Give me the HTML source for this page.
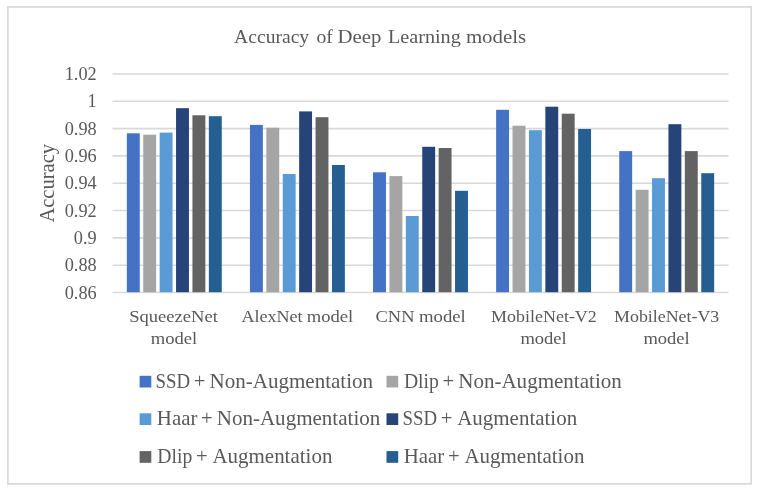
<!DOCTYPE html>
<html lang="en"><head><meta charset="utf-8"><title>Accuracy of Deep Learning models</title>
<style>html,body{margin:0;padding:0;background:#fff}svg{display:block}text{font-family:"Liberation Serif",serif;fill:#595959}</style></head><body>
<svg width="759" height="492" viewBox="0 0 759 492">
<rect x="0" y="0" width="759" height="492" fill="#fff"/>
<rect x="7.9" y="6.9" width="743.3" height="477.0" fill="#fff" stroke="#D9D9D9" stroke-width="1.7"/>
<line x1="112.5" y1="73.95" x2="728.5" y2="73.95" stroke="#D9D9D9" stroke-width="1.6"/>
<line x1="112.5" y1="101.27" x2="728.5" y2="101.27" stroke="#D9D9D9" stroke-width="1.6"/>
<line x1="112.5" y1="128.59" x2="728.5" y2="128.59" stroke="#D9D9D9" stroke-width="1.6"/>
<line x1="112.5" y1="155.91" x2="728.5" y2="155.91" stroke="#D9D9D9" stroke-width="1.6"/>
<line x1="112.5" y1="183.23" x2="728.5" y2="183.23" stroke="#D9D9D9" stroke-width="1.6"/>
<line x1="112.5" y1="210.55" x2="728.5" y2="210.55" stroke="#D9D9D9" stroke-width="1.6"/>
<line x1="112.5" y1="237.87" x2="728.5" y2="237.87" stroke="#D9D9D9" stroke-width="1.6"/>
<line x1="112.5" y1="265.19" x2="728.5" y2="265.19" stroke="#D9D9D9" stroke-width="1.6"/>
<line x1="112.5" y1="292.51" x2="728.5" y2="292.51" stroke="#D9D9D9" stroke-width="1.6"/>
<rect x="126.84" y="133.30" width="12.91" height="158.90" fill="#4472C4"/>
<rect x="143.24" y="134.70" width="12.91" height="157.50" fill="#A5A5A5"/>
<rect x="159.64" y="132.60" width="12.91" height="159.60" fill="#5B9BD5"/>
<rect x="176.04" y="108.20" width="12.91" height="184.00" fill="#264478"/>
<rect x="192.44" y="115.30" width="12.91" height="176.90" fill="#636363"/>
<rect x="208.85" y="116.20" width="12.91" height="176.00" fill="#255E91"/>
<rect x="249.94" y="124.90" width="12.91" height="167.30" fill="#4472C4"/>
<rect x="266.34" y="127.70" width="12.91" height="164.50" fill="#A5A5A5"/>
<rect x="282.74" y="174.00" width="12.91" height="118.20" fill="#5B9BD5"/>
<rect x="299.14" y="111.40" width="12.91" height="180.80" fill="#264478"/>
<rect x="315.54" y="117.20" width="12.91" height="175.00" fill="#636363"/>
<rect x="331.95" y="165.00" width="12.91" height="127.20" fill="#255E91"/>
<rect x="373.04" y="172.30" width="12.91" height="119.90" fill="#4472C4"/>
<rect x="389.44" y="176.10" width="12.91" height="116.10" fill="#A5A5A5"/>
<rect x="405.84" y="216.00" width="12.91" height="76.20" fill="#5B9BD5"/>
<rect x="422.24" y="146.80" width="12.91" height="145.40" fill="#264478"/>
<rect x="438.64" y="148.00" width="12.91" height="144.20" fill="#636363"/>
<rect x="455.05" y="190.80" width="12.91" height="101.40" fill="#255E91"/>
<rect x="496.14" y="109.80" width="12.91" height="182.40" fill="#4472C4"/>
<rect x="512.54" y="125.70" width="12.91" height="166.50" fill="#A5A5A5"/>
<rect x="528.94" y="130.20" width="12.91" height="162.00" fill="#5B9BD5"/>
<rect x="545.34" y="106.70" width="12.91" height="185.50" fill="#264478"/>
<rect x="561.74" y="113.70" width="12.91" height="178.50" fill="#636363"/>
<rect x="578.15" y="129.00" width="12.91" height="163.20" fill="#255E91"/>
<rect x="619.24" y="151.10" width="12.91" height="141.10" fill="#4472C4"/>
<rect x="635.64" y="189.80" width="12.91" height="102.40" fill="#A5A5A5"/>
<rect x="652.04" y="178.20" width="12.91" height="114.00" fill="#5B9BD5"/>
<rect x="668.44" y="124.20" width="12.91" height="168.00" fill="#264478"/>
<rect x="684.84" y="151.10" width="12.91" height="141.10" fill="#636363"/>
<rect x="701.25" y="173.20" width="12.91" height="119.00" fill="#255E91"/>
<text x="96.7" y="80.00" font-size="18.3" text-anchor="end">1.02</text>
<text x="96.7" y="107.32" font-size="18.3" text-anchor="end">1</text>
<text x="96.7" y="134.64" font-size="18.3" text-anchor="end">0.98</text>
<text x="96.7" y="161.96" font-size="18.3" text-anchor="end">0.96</text>
<text x="96.7" y="189.28" font-size="18.3" text-anchor="end">0.94</text>
<text x="96.7" y="216.60" font-size="18.3" text-anchor="end">0.92</text>
<text x="96.7" y="243.92" font-size="18.3" text-anchor="end">0.9</text>
<text x="96.7" y="271.24" font-size="18.3" text-anchor="end">0.88</text>
<text x="96.7" y="298.56" font-size="18.3" text-anchor="end">0.86</text>
<text transform="translate(53.5 222.6) rotate(-90)" x="0" y="0" font-size="20.4" textLength="78.6" lengthAdjust="spacingAndGlyphs">Accuracy</text>
<text font-size="18.4"><tspan x="234.10" y="42.70" textLength="75.04" lengthAdjust="spacingAndGlyphs">Accuracy</tspan> <tspan x="316.40" y="42.70" textLength="16.36" lengthAdjust="spacingAndGlyphs">of</tspan> <tspan x="337.50" y="42.70" textLength="43.82" lengthAdjust="spacingAndGlyphs">Deep</tspan> <tspan x="387.90" y="42.70" textLength="72.91" lengthAdjust="spacingAndGlyphs">Learning</tspan> <tspan x="465.90" y="42.70" textLength="60.28" lengthAdjust="spacingAndGlyphs">models</tspan></text>
<text font-size="16.6"><tspan x="129.18" y="321.50" textLength="88.68" lengthAdjust="spacingAndGlyphs">SqueezeNet</tspan> <tspan x="150.80" y="343.60" textLength="46.46" lengthAdjust="spacingAndGlyphs">model</tspan></text>
<text font-size="16.6"><tspan x="241.40" y="321.50" textLength="61.18" lengthAdjust="spacingAndGlyphs">AlexNet</tspan> <tspan x="306.70" y="321.50" textLength="46.46" lengthAdjust="spacingAndGlyphs">model</tspan></text>
<text font-size="16.6"><tspan x="375.55" y="321.50" textLength="38.93" lengthAdjust="spacingAndGlyphs">CNN</tspan> <tspan x="419.00" y="321.50" textLength="46.76" lengthAdjust="spacingAndGlyphs">model</tspan></text>
<text font-size="16.6"><tspan x="491.10" y="321.50" textLength="105.72" lengthAdjust="spacingAndGlyphs">MobileNet-V2</tspan> <tspan x="520.40" y="343.60" textLength="46.36" lengthAdjust="spacingAndGlyphs">model</tspan></text>
<text font-size="16.6"><tspan x="614.10" y="321.50" textLength="105.22" lengthAdjust="spacingAndGlyphs">MobileNet-V3</tspan> <tspan x="643.40" y="343.60" textLength="46.36" lengthAdjust="spacingAndGlyphs">model</tspan></text>
<text font-size="20.4"><tspan x="155.58" y="387.70" textLength="34.60" lengthAdjust="spacingAndGlyphs">SSD</tspan> <tspan x="193.89" y="387.70" textLength="11.61" lengthAdjust="spacingAndGlyphs">+</tspan> <tspan x="209.50" y="387.70" textLength="163.60" lengthAdjust="spacingAndGlyphs">Non-Augmentation</tspan></text>
<text font-size="20.4"><tspan x="156.80" y="424.90" textLength="40.59" lengthAdjust="spacingAndGlyphs">Haar</tspan> <tspan x="201.09" y="424.90" textLength="11.61" lengthAdjust="spacingAndGlyphs">+</tspan> <tspan x="216.70" y="424.90" textLength="163.60" lengthAdjust="spacingAndGlyphs">Non-Augmentation</tspan></text>
<text font-size="20.4"><tspan x="157.30" y="462.70" textLength="34.99" lengthAdjust="spacingAndGlyphs">Dlip</tspan> <tspan x="195.99" y="462.70" textLength="11.61" lengthAdjust="spacingAndGlyphs">+</tspan> <tspan x="212.40" y="462.70" textLength="120.00" lengthAdjust="spacingAndGlyphs">Augmentation</tspan></text>
<text font-size="20.4"><tspan x="403.90" y="387.70" textLength="34.99" lengthAdjust="spacingAndGlyphs">Dlip</tspan> <tspan x="442.59" y="387.70" textLength="11.61" lengthAdjust="spacingAndGlyphs">+</tspan> <tspan x="458.20" y="387.70" textLength="163.60" lengthAdjust="spacingAndGlyphs">Non-Augmentation</tspan></text>
<text font-size="20.4"><tspan x="402.48" y="424.90" textLength="34.60" lengthAdjust="spacingAndGlyphs">SSD</tspan> <tspan x="440.79" y="424.90" textLength="11.61" lengthAdjust="spacingAndGlyphs">+</tspan> <tspan x="457.20" y="424.90" textLength="120.00" lengthAdjust="spacingAndGlyphs">Augmentation</tspan></text>
<text font-size="20.4"><tspan x="403.70" y="462.70" textLength="40.59" lengthAdjust="spacingAndGlyphs">Haar</tspan> <tspan x="447.99" y="462.70" textLength="11.61" lengthAdjust="spacingAndGlyphs">+</tspan> <tspan x="464.40" y="462.70" textLength="120.00" lengthAdjust="spacingAndGlyphs">Augmentation</tspan></text>
<rect x="139.6" y="375.8" width="11.7" height="11.7" fill="#4472C4"/>
<rect x="386.5" y="375.8" width="11.7" height="11.7" fill="#A5A5A5"/>
<rect x="139.6" y="413.3" width="11.7" height="11.7" fill="#5B9BD5"/>
<rect x="386.5" y="413.3" width="11.7" height="11.7" fill="#264478"/>
<rect x="139.6" y="451.1" width="11.7" height="11.7" fill="#636363"/>
<rect x="386.5" y="451.1" width="11.7" height="11.7" fill="#255E91"/>
</svg></body></html>
